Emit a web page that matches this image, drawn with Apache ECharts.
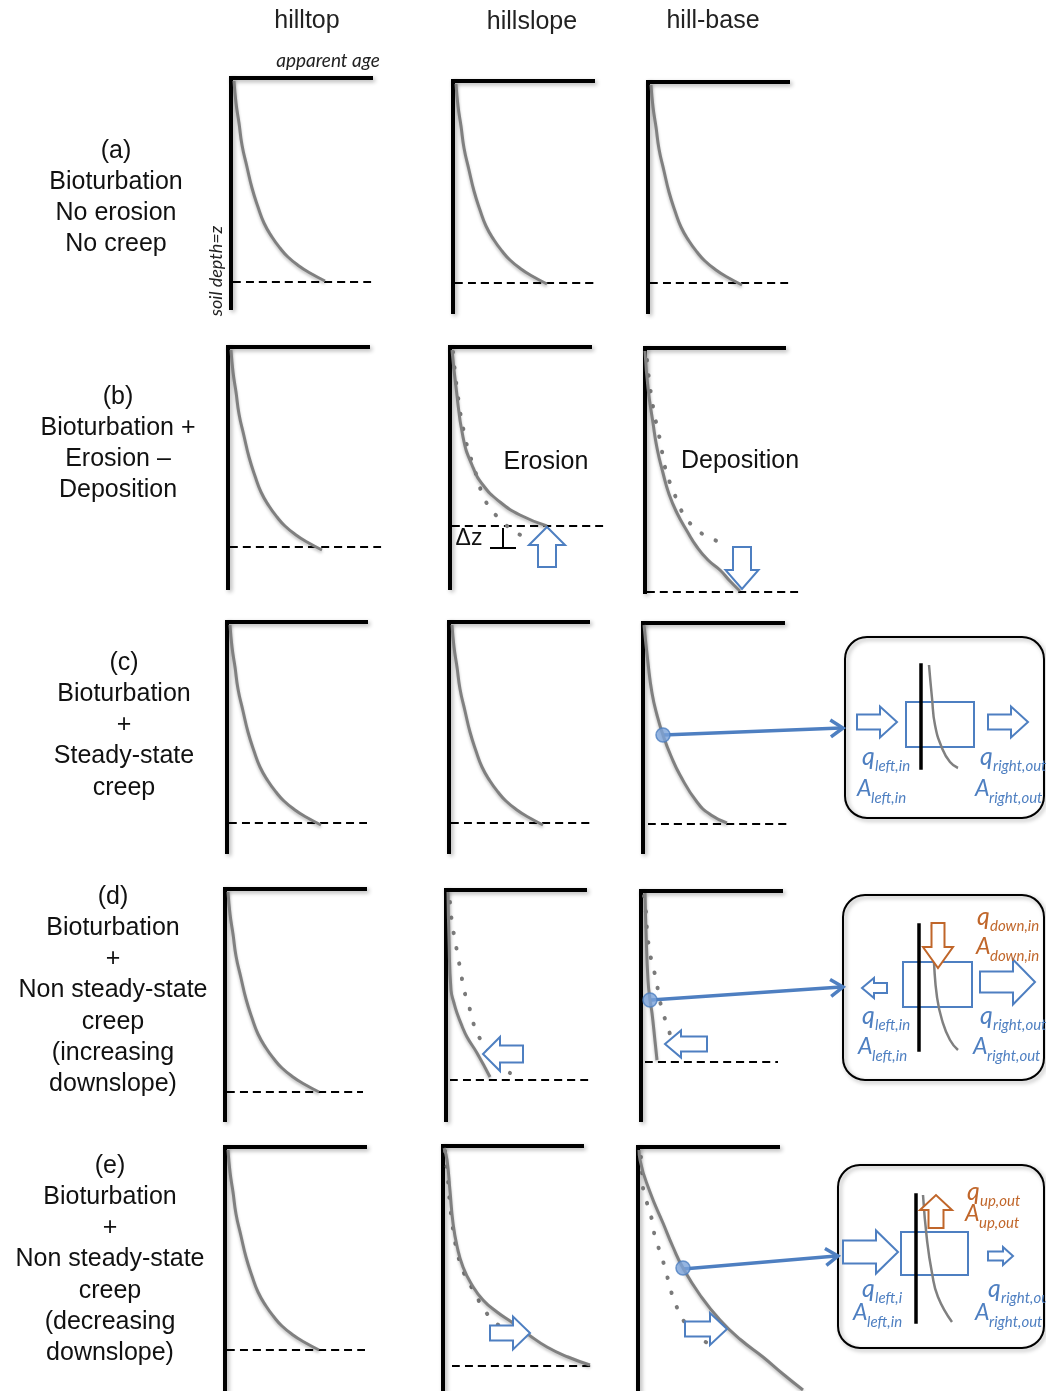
<!DOCTYPE html>
<html><head><meta charset="utf-8">
<script src="https://cdn.jsdelivr.net/npm/echarts@6/dist/echarts.min.js"></script>
<style>html,body{margin:0;padding:0;background:#fff}#c{width:1046px;height:1391px}</style>
</head><body><div id="c"></div>
<script>
// ---------------- DATA ----------------
const columnHeaders = ['hilltop', 'hillslope', 'hill-base'];
const rowLabels = [
  ['(a)', 'Bioturbation', 'No erosion', 'No creep'],
  ['(b)', 'Bioturbation +', 'Erosion \u2013', 'Deposition'],
  ['(c)', 'Bioturbation', '+', 'Steady-state', 'creep'],
  ['(d)', 'Bioturbation', '+', 'Non steady-state', 'creep', '(increasing', 'downslope)'],
  ['(e)', 'Bioturbation', '+', 'Non steady-state', 'creep', '(decreasing', 'downslope)']
];
const xAxisName = 'apparent age';
const yAxisName = 'soil depth=z';

// profiles: [apparent age, soil depth] in panel units
const profileSteady = [[3,3],[5,25],[8,45],[11,67],[16,89],[21,110],[27,129],[33,145],[41,159],[49,170],[57,179],[68,188],[79,195],[94,203]];
const profileC3 = [[1,2],[5,40],[9,70],[14,92],[20,112],[28,133],[37,152],[54,179],[68,192],[84,200]];
const erosionNow = [[2,3],[6,40],[13,90],[22,118],[33,138],[50,155],[70,168],[97,179]];
const erosionBefore = [[3,5],[8,50],[15,90],[22,115],[27,130],[32,146],[40,161],[51,173],[65,185],[79,191]];
const depositionNow = [[0,3],[3,40],[8,75],[12,100],[18,125],[24,146],[32,165],[42,183],[52,199],[63,212],[75,222],[85,233],[95,243]];
const depositionBefore = [[2,12],[5,39],[10,69],[15,92],[20,119],[25,135],[32,152],[39,167],[50,180],[63,189],[78,195]];
const incSlopeNow = [[2,2],[3,50],[5,100],[8,113],[11,123],[16,136],[21,147],[31,163],[44,187]];
const incSlopeBefore = [[4,12],[6,33],[9,50],[12,67],[15,83],[18,100],[23,116],[27,132],[33,147],[48,168],[64,183]];
const incBaseNow = [[4,2],[5,40],[7,89],[9,109],[11,122],[14,150],[16,169]];
const incBaseBefore = [[3,5],[5,22],[6,39],[8,56],[11,72],[15,88],[18,105],[22,122],[27,136],[31,152]];
const decSlopeNow = [[1,2],[4,14],[7,45],[10,77],[14,100],[20,121],[29,139],[40,154],[54,166],[70,177],[86,189],[104,201],[125,211],[147,219]];
const decSlopeBefore = [[2,5],[4,24],[5,34],[7,58],[10,83],[14,105],[19,122],[25,135],[32,147],[40,162],[52,176],[65,186]];
const decBaseNow = [[1,3],[2,13],[12,45],[25,76],[35,100],[45,121],[62,148],[82,173],[103,193],[125,210],[145,227],[165,243]];
const decBaseBefore = [[3,10],[4,25],[5,41],[9,56],[14,73],[17,90],[22,105],[27,121],[32,140],[37,156],[50,180],[64,193],[77,198]];
// base of soil: [from age, to age, depth]
const soilBase = [
  [2,141,204],[2,144,202],[2,142,201],
  [2,155,200],[2,158,179],[2,158,244],
  [2,140,201],[2,143,201],[5,146,201],
  [2,138,203],[4,144,190],[4,137,171],
  [2,140,203],[9,149,220],null
];
// sampled point on profile (blue circle)
const samplePoints = {8:[20,112], 11:[9,109], 14:[45,121]};
// inset profiles
const insetC = [[8,0],[11,33],[14,60],[21,83],[29,97],[37,103]];
const insetD = [[13,0],[15,38],[18,72],[23,95],[31,115],[39,125]];
const insetE = [[7,0],[11,45],[16,78],[22,102],[36,127]];

// ---------------- LAYOUT ----------------
const panelBox = [
  [231,78,140,230],[453,81,140,231],[648,82,140,230],
  [228,347,140,241],[450,347,140,241],[645,348,139,244],
  [227,622,139,230],[449,622,139,230],[643,623,140,229],
  [225,889,140,231],[446,890,139,230],[641,891,140,229],
  [225,1147,140,244],[443,1146,139,245],[638,1147,140,244]
];
const EXTRA = 40; // room right of the top frame for marks running past it
const solidByPanel = [profileSteady,profileSteady,profileSteady,profileSteady,erosionNow,depositionNow,
  profileSteady,profileSteady,profileC3,profileSteady,incSlopeNow,incBaseNow,profileSteady,decSlopeNow,decBaseNow];
const dottedByPanel = {4:erosionBefore,5:depositionBefore,10:incSlopeBefore,11:incBaseBefore,13:decSlopeBefore,14:decBaseBefore};
const insetBox = [[921,665,50,103],[919,925,50,125],[916,1195,50,127]];
const insetCurves = [insetC, insetD, insetE];

const BLUE = '#4e7fc1', ORANGE = '#c0662a', GREY = '#808080';
const SANS = '"Liberation Sans", Arial, sans-serif';
const ITAL = 'Lato, "Open Sans", sans-serif';

const grid = [], xAxis = [], yAxis = [], series = [], els = [];
const frameShadow = {shadowColor:'rgba(0,0,0,0.3)', shadowBlur:4, shadowOffsetX:2, shadowOffsetY:2};
function addGrid(box, extra, lw, shadow) {
  const i = grid.length, w = box[2] + extra;
  grid.push({left:box[0], top:box[1], width:w, height:box[3], containLabel:false});
  xAxis.push({gridIndex:i, type:'value', min:0, max:w, position:'top',
    axisLine:{show:false}, axisTick:{show:false}, axisLabel:{show:false}, splitLine:{show:false}});
  yAxis.push({gridIndex:i, type:'value', min:0, max:box[3], inverse:true, position:'left',
    axisLine:{show:true, onZero:false, lineStyle:Object.assign({color:'#000', width:lw, cap:'square'}, shadow ? frameShadow : {})},
    axisTick:{show:false}, axisLabel:{show:false}, splitLine:{show:false}});
  return i;
}
function line(gi, data, ls, z) {
  return {type:'line', xAxisIndex:gi, yAxisIndex:gi, data:data, smooth:0.5, symbol:'none', clip:false,
    silent:true, lineStyle:ls, z:z || 3};
}
panelBox.forEach((box, p) => {
  const gi = addGrid(box, EXTRA, 4, true);
  // top frame (age axis line)
  els.push({type:'line', z:1, silent:true, shape:{x1:box[0], y1:box[1], x2:box[0] + box[2], y2:box[1]},
    style:Object.assign({stroke:'#000', lineWidth:4, lineCap:'square'}, frameShadow)});
  const b = soilBase[p];
  if (b) series.push(line(gi, [[b[0], b[2]], [b[1], b[2]]], {color:'#000', width:2, type:[8,5]}, 2));
  if (dottedByPanel[p]) series.push(line(gi, dottedByPanel[p], {color:'#7a7a7a', width:4, type:[0.5,15], cap:'round'}, 3));
  series.push(line(gi, solidByPanel[p], {color:GREY, width:3, shadowColor:'rgba(0,0,0,0.25)', shadowBlur:3, shadowOffsetY:2}, 4));
  if (samplePoints[p]) series.push({type:'scatter', xAxisIndex:gi, yAxisIndex:gi, data:[samplePoints[p]], symbolSize:14,
    silent:true, z:8, itemStyle:{color:'#7ba3d9', borderColor:BLUE, borderWidth:1.5}});
});
insetBox.forEach((box, k) => {
  const gi = addGrid(box, 0, 3.5, false);
  series.push(line(gi, insetCurves[k], {color:GREY, width:2.5}, 4));
});

// ---------------- ANNOTATIONS ----------------
function txt(x, y, text, o) {
  o = o || {};
  els.push({type:'text', x:x, y:y, z:40, rotation:o.rot || 0, silent:true, style:{
    text:text, fill:o.fill || '#111', fontSize:o.size || 25, fontFamily:o.family || SANS, fontStyle:o.style || 'normal',
    align:o.align || 'center', verticalAlign:'middle', textAlign:o.align || 'center', textVerticalAlign:'middle'}});
}
function sublab(x, base, main, sub, color) {
  const big = main === 'q' ? 25 : 23;
  txt(x, base - 8, main, {size:big, family:ITAL, style:'italic', fill:color, align:'left'});
  txt(x + (main === 'q' ? 13 : 14), base + 1, sub, {size:15, family:ITAL, style:'italic', fill:color, align:'left'});
}
function blockArrow(x1, y1, x2, y2, hw, sw, hl, color) {
  const L = Math.hypot(x2-x1, y2-y1), dx = (x2-x1)/L, dy = (y2-y1)/L, nx = -dy, ny = dx;
  const bx = x2 - dx*hl, by = y2 - dy*hl;
  const pts = [[x1+nx*sw/2, y1+ny*sw/2], [bx+nx*sw/2, by+ny*sw/2], [bx+nx*hw/2, by+ny*hw/2], [x2, y2],
    [bx-nx*hw/2, by-ny*hw/2], [bx-nx*sw/2, by-ny*sw/2], [x1-nx*sw/2, y1-ny*sw/2]];
  els.push({type:'polygon', z:30, silent:true, shape:{points:pts}, style:{fill:'#fff', stroke:color, lineWidth:2, lineJoin:'miter'}});
}
function connector(x1, y1, x2, y2) {
  els.push({type:'line', z:1, silent:true, shape:{x1:x1, y1:y1, x2:x2 - 2, y2:y2}, style:{stroke:BLUE, lineWidth:3.5}});
  const L = Math.hypot(x2-x1, y2-y1), dx = (x2-x1)/L, dy = (y2-y1)/L, a = 0.6, s = 15;
  const p1 = [x2 - s*(dx*Math.cos(a) - dy*Math.sin(a)), y2 - s*(dy*Math.cos(a) + dx*Math.sin(a))];
  const p2 = [x2 - s*(dx*Math.cos(a) + dy*Math.sin(a)), y2 - s*(dy*Math.cos(a) - dx*Math.sin(a))];
  els.push({type:'polyline', z:1, silent:true, shape:{points:[p1, [x2, y2], p2]}, style:{stroke:BLUE, lineWidth:3.5, fill:null, lineJoin:'miter'}});
}
function rrect(x, y, w, h, r, stroke, lw, shadow) {
  els.push({type:'rect', z:0, silent:true, shape:{x:x, y:y, width:w, height:h, r:r},
    style:Object.assign({fill:'rgba(0,0,0,0)', stroke:stroke, lineWidth:lw}, shadow ? {shadowColor:'rgba(0,0,0,0.35)', shadowBlur:4, shadowOffsetX:2, shadowOffsetY:2} : {})});
}

// headers
[[307,21],[532,22],[713,21]].forEach((p, i) => txt(p[0], p[1], columnHeaders[i], {size:25, fill:'#222'}));
// row labels
[[116,151],[118,397],[124,663],[113,897],[110,1166]].forEach((p, r) => {
  rowLabels[r].forEach((s, j) => txt(p[0], p[1] + j*31.2, s, {size:25}));
});
// axis names
txt(328, 61, xAxisName, {size:19, family:ITAL, style:'italic', fill:'#222'});
txt(216, 271, yAxisName, {size:18, family:ITAL, style:'italic', fill:'#222', rot:Math.PI/2});
// erosion / deposition
txt(546, 462, 'Erosion', {size:25});
txt(740, 461, 'Deposition', {size:25});
txt(469, 539, '\u0394z', {size:23});
els.push({type:'line', z:30, silent:true, shape:{x1:503, y1:528, x2:503, y2:548}, style:{stroke:'#000', lineWidth:2}});
els.push({type:'line', z:30, silent:true, shape:{x1:490, y1:548, x2:516, y2:548}, style:{stroke:'#000', lineWidth:2}});
blockArrow(547, 567, 547, 527, 36, 18, 18, BLUE);
blockArrow(742, 547, 742, 589, 33, 18, 19, BLUE);
// row d/e panel arrows
blockArrow(523, 1054, 483, 1054, 34, 17, 17, BLUE);
blockArrow(707, 1044, 665, 1044, 27, 15, 16, BLUE);
blockArrow(490, 1333, 530, 1333, 33, 15, 17, BLUE);
blockArrow(685, 1329, 727, 1329, 32, 15, 17, BLUE);
// insets
rrect(845, 637, 199, 181, 22, '#000', 2, true);
rrect(843, 895, 201, 185, 22, '#000', 2, true);
rrect(838, 1165, 206, 183, 22, '#000', 2, true);
rrect(906, 702, 68, 45, 0, BLUE, 2, false);
rrect(903, 962, 69, 45, 0, BLUE, 2, false);
rrect(901, 1232, 67, 43, 0, BLUE, 2, false);
connector(663, 735, 843, 728);
connector(651, 1000, 843, 987);
connector(683, 1269, 838, 1256);
// inset c
blockArrow(857, 722, 897, 722, 31, 15, 17, BLUE);
blockArrow(988, 722, 1028, 722, 31, 15, 17, BLUE);
sublab(862, 765, 'q', 'left,in', BLUE);
sublab(857, 797, 'A', 'left,in', BLUE);
sublab(980, 765, 'q', 'right,out', BLUE);
sublab(975, 797, 'A', 'right,out', BLUE);
// inset d
blockArrow(887, 988, 862, 988, 20, 10, 12, BLUE);
blockArrow(980, 982, 1035, 982, 45, 21, 22, BLUE);
blockArrow(938, 923, 938, 968, 30, 13, 21, ORANGE);
sublab(977, 925, 'q', 'down,in', ORANGE);
sublab(976, 955, 'A', 'down,in', ORANGE);
sublab(862, 1024, 'q', 'left,in', BLUE);
sublab(858, 1055, 'A', 'left,in', BLUE);
sublab(980, 1024, 'q', 'right,out', BLUE);
sublab(973, 1055, 'A', 'right,out', BLUE);
// inset e
blockArrow(843, 1252, 898, 1252, 43, 23, 22, BLUE);
blockArrow(988, 1256, 1013, 1256, 18, 9, 10, BLUE);
blockArrow(936, 1228, 936, 1195, 32, 15, 15, ORANGE);
sublab(967, 1200, 'q', 'up,out', ORANGE);
sublab(965, 1222, 'A', 'up,out', ORANGE);
sublab(862, 1297, 'q', 'left,i', BLUE);
sublab(853, 1321, 'A', 'left,in', BLUE);
sublab(988, 1297, 'q', 'right,ou', BLUE);
sublab(975, 1321, 'A', 'right,out', BLUE);

const chart = echarts.init(document.getElementById('c'), null, {renderer:'canvas'});
chart.setOption({animation:false, backgroundColor:'#fff', grid:grid, xAxis:xAxis, yAxis:yAxis, series:series, graphic:{elements:els}});
</script></body></html>
